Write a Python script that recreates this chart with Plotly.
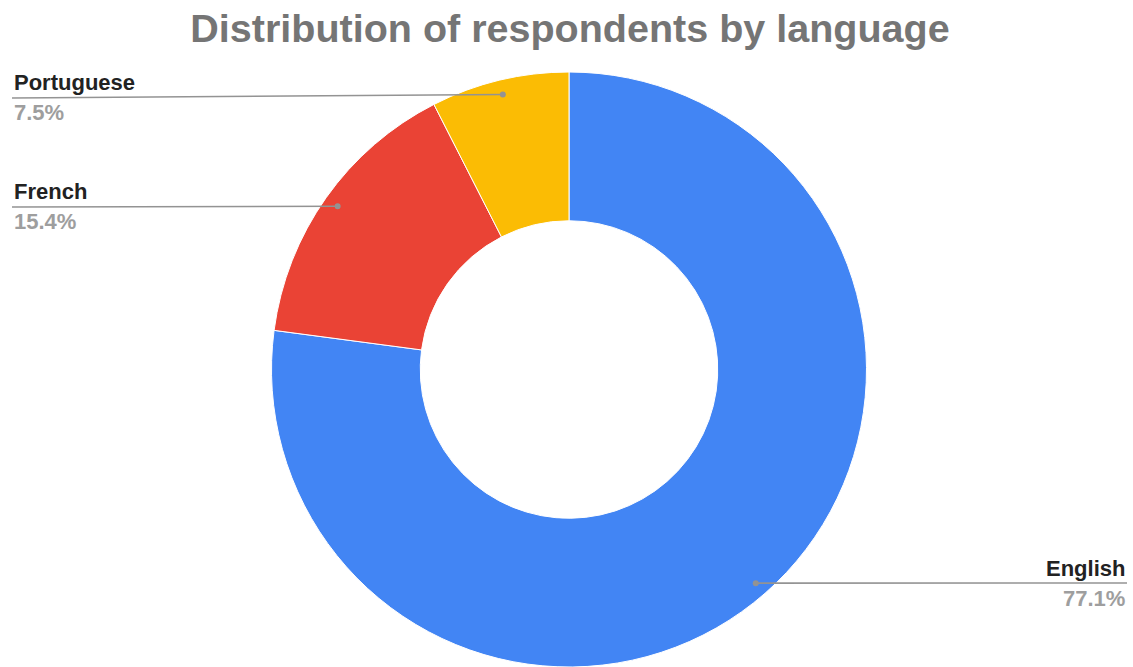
import math
import plotly.graph_objects as go

# Chart data
languages = ["English", "French", "Portuguese"]
shares = [77.1, 15.4, 7.5]
colors = ["#4285F4", "#EA4335", "#FBBC04"]
label_side = ["right", "left", "left"]

W, H = 1133, 667
CX, CY, R = 569, 370, 298          # donut centre / outer radius in pixels
HOLE = 0.5
DOT_R = 0.951 * R                   # where leader lines meet the ring
LABEL_Y = {"English": 583, "French": 207, "Portuguese": 98}
LEFT_X, RIGHT_X = 12, 1127
FONT = "Liberation Sans, Arial, sans-serif"


def px(x):
    return x / W


def py(y):
    return 1 - y / H


fig = go.Figure()

fig.add_trace(go.Pie(
    labels=languages,
    values=shares,
    sort=False,
    direction="clockwise",
    rotation=0,
    hole=HOLE,
    marker=dict(colors=colors, line=dict(color="white", width=1)),
    textinfo="none",
    hoverinfo="label+percent",
    showlegend=False,
    domain=dict(x=[(CX - R) / W, (CX + R) / W],
                y=[max(0, (H - CY - R) / H), (H - CY + R) / H]),
))

# Leader lines and labels, positioned from each slice's mid angle
total = sum(shares)
cum = 0.0
shapes = []
annotations = []
for name, val, side in zip(languages, shares, label_side):
    mid = (cum + val / 2) / total * 2 * math.pi
    cum += val
    dx = CX + DOT_R * math.sin(mid)
    dy = CY - DOT_R * math.cos(mid)
    ly = LABEL_Y[name]
    ex = RIGHT_X if side == "right" else LEFT_X
    shapes.append(dict(
        type="line", xref="paper", yref="paper", layer="above",
        x0=px(dx), y0=py(dy), x1=px(ex), y1=py(ly),
        line=dict(color="#939393", width=1.6),
    ))
    rdot = 3
    shapes.append(dict(
        type="circle", xref="paper", yref="paper", layer="above",
        x0=px(dx - rdot), x1=px(dx + rdot), y0=py(dy + rdot), y1=py(dy - rdot),
        fillcolor="#939393", line=dict(width=0),
    ))
    anchor = "right" if side == "right" else "left"
    annotations.append(dict(
        x=px(ex), y=py(ly - 15), xref="paper", yref="paper", text=f"<b>{name}</b>",
        showarrow=False, xanchor=anchor, yanchor="middle",
        font=dict(family=FONT, size=22, color="#222222"),
    ))
    annotations.append(dict(
        x=px(ex), y=py(ly + 15), xref="paper", yref="paper",
        text=f"<b>{val / total * 100:.1f}%</b>",
        showarrow=False, xanchor=anchor, yanchor="middle",
        font=dict(family=FONT, size=22, color="#9e9e9e"),
    ))

fig.update_layout(
    width=W, height=H,
    margin=dict(l=0, r=0, t=0, b=0),
    paper_bgcolor="white", plot_bgcolor="rgba(0,0,0,0)",
    title=dict(
        text="<b>Distribution of respondents by language</b>",
        x=570 / W, xanchor="center", y=1 - 28 / H, yanchor="middle", yref="container",
        font=dict(family=FONT, size=39.5, color="#757575"),
    ),
    shapes=shapes,
    annotations=annotations,
)

fig.write_html("out.html")
